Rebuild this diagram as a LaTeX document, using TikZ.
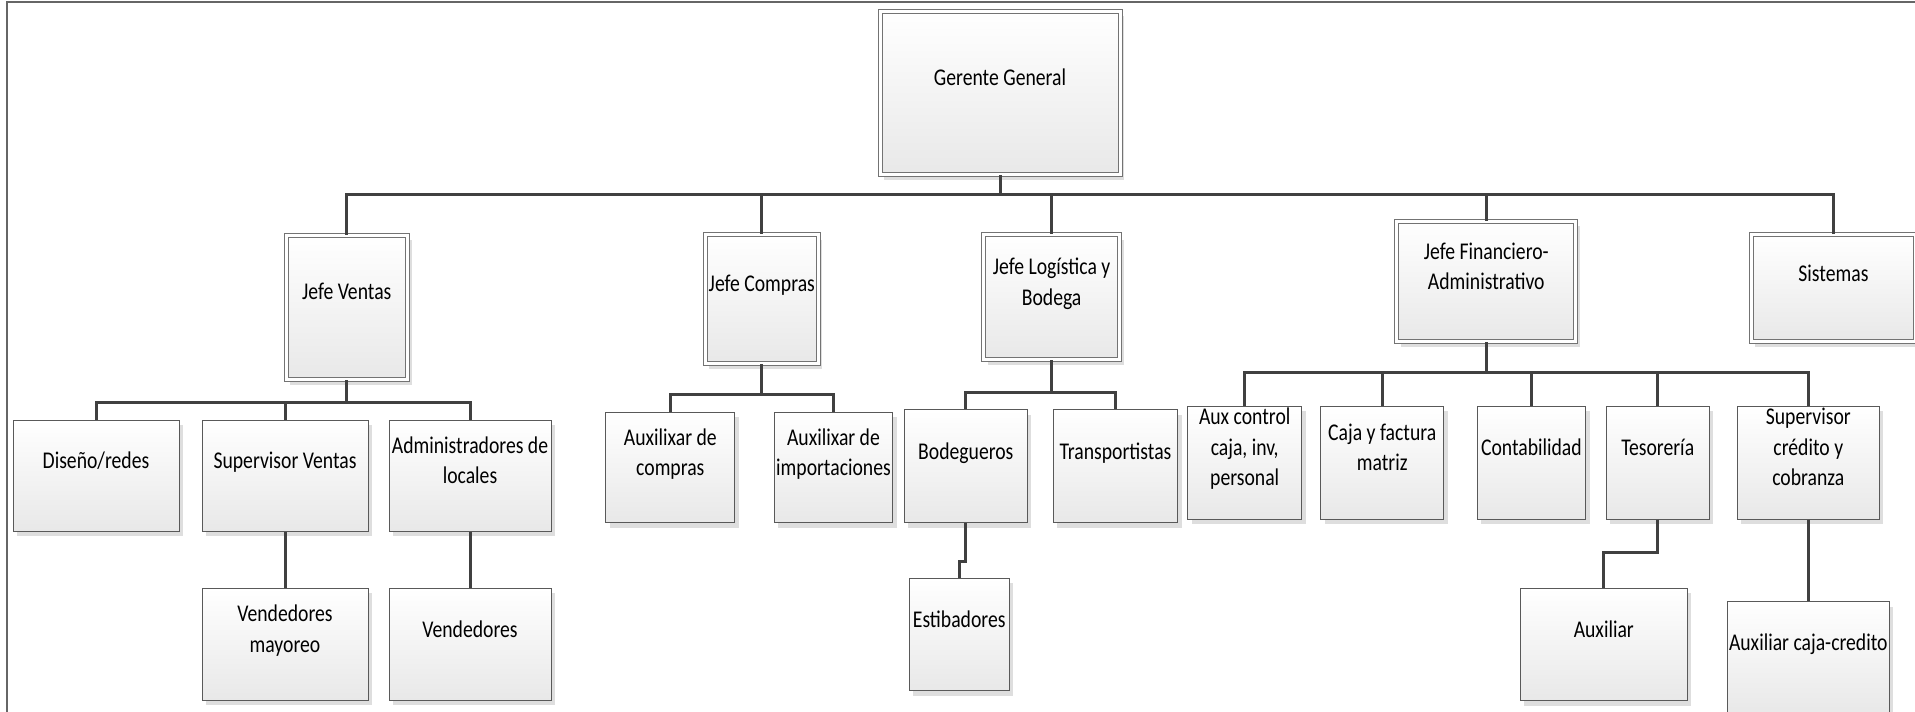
\documentclass[tikz,border=0pt]{standalone}
\usepackage{fontspec}
\setmainfont{Carlito}[FakeStretch=0.82]
\usetikzlibrary{shadows}

\newcommand\orgfont{\fontsize{24pt}{30.5pt}\selectfont}

\tikzset{
  post/.style={draw=black!65, line width=1pt, top color=white, bottom color=black!9,
    drop shadow={shadow xshift=4pt, shadow yshift=-5pt, fill=black!13, opacity=1},
    inner xsep=0pt, inner ysep=0pt, align=flush center, font=\orgfont,
    execute at begin node={\vrule width 0pt height 16pt depth 0pt\relax},
    execute at end node={\vrule width 0pt height 0pt depth 31pt\relax}},
  head/.style={post, draw=black!55, double=white, double distance=3pt},
  link/.style={draw=black!75, line width=3pt},
  frame/.style={draw=black!60, line width=1.5pt},
}

\begin{document}
\begin{tikzpicture}[x=1pt, y=-1pt]
\path[use as bounding box, fill=white] (0,0) rectangle (1915,712);
\draw[frame] (7,730) -- (7,2) -- (1930,2);

% heads
\node[head, text width=240pt, minimum height=163.5pt] (gg) at (1000,92.75) {Gerente General};
\node[head, text width=121.5pt, minimum height=144.5pt] (jv) at (346.75,307.25) {Jefe Ventas};
\node[head, text width=112.7pt, minimum height=129pt] (jc) at (761.8,299) {Jefe Compras};
\node[head, text width=136pt, minimum height=125.2pt] (jl) at (1051.6,297.1) {Jefe Logística y\\Bodega};
\node[head, text width=179pt, minimum height=120.6pt] (jf) at (1486.3,281.5) {Jefe Financiero-\\Administrativo};
\node[head, text width=164.8pt, minimum height=107.3pt] (sis) at (1833.4,288.3) {Sistemas};

% ventas
\node[post, text width=166pt, minimum height=111pt] (dis) at (96,475.5) {Diseño/redes};
\node[post, text width=166pt, minimum height=111pt] (sv) at (285,475.5) {Supervisor Ventas};
\node[post, text width=162pt, minimum height=111pt] (adm) at (470,475.5) {Administradores de\\locales};
\node[post, text width=166pt, minimum height=111.7pt] (vm) at (285,644.2) {Vendedores\\mayoreo};
\node[post, text width=162pt, minimum height=111.7pt] (ven) at (470,644.2) {Vendedores};

% compras
\node[post, text width=128.7pt, minimum height=110.4pt] (ac) at (670.3,467.5) {Auxilixar de\\compras};
\node[post, text width=118.4pt, minimum height=110.4pt] (ai) at (833.5,467.5) {Auxilixar de\\importaciones};

% logistica
\node[post, text width=123pt, minimum height=112.7pt] (bod) at (965.8,466.3) {Bodegueros};
\node[post, text width=124.4pt, minimum height=112.7pt] (tra) at (1115.5,466.3) {Transportistas};
\node[post, text width=100.3pt, minimum height=112.4pt] (est) at (959.2,634.5) {Estibadores};

% financiero
\node[post, text width=114pt, minimum height=113pt] (aux) at (1244.7,462.5) {Aux control\\caja, inv,\\personal};
\node[post, text width=123pt, minimum height=113pt] (caj) at (1382.2,462.5) {Caja y factura\\matriz};
\node[post, text width=108.2pt, minimum height=113pt] (con) at (1531.4,462.5) {Contabilidad};
\node[post, text width=103.3pt, minimum height=113pt] (tes) at (1657.7,462.5) {Tesorería};
\node[post, text width=142pt, minimum height=113pt] (sup) at (1808.3,462.5) {Supervisor\\crédito y\\cobranza};
\node[post, text width=167pt, minimum height=112.4pt] (axl) at (1603.8,644.5) {Auxiliar};
\node[post, text width=162pt, minimum height=112.4pt] (acc) at (1808.3,657.8) {Auxiliar caja-credito};

% lineas
\coordinate (b0) at (1000,194);
\coordinate (b1) at (346.75,402);
\coordinate (b2) at (761.8,394.3);
\coordinate (b3) at (1051.6,392.3);
\coordinate (b4) at (1486.3,372.3);

\draw[link] (gg.south) -- (b0);
\foreach \n in {jv,jc,jl,jf,sis} \draw[link] (b0) -| (\n.north);
\draw[link] (jv.south) -- (b1);
\foreach \n in {dis,sv,adm} \draw[link] (b1) -| (\n.north);
\draw[link] (jc.south) -- (b2);
\foreach \n in {ac,ai} \draw[link] (b2) -| (\n.north);
\draw[link] (jl.south) -- (b3);
\foreach \n in {bod,tra} \draw[link] (b3) -| (\n.north);
\draw[link] (jf.south) -- (b4);
\foreach \n in {aux,caj,con,tes,sup} \draw[link] (b4) -| (\n.north);

\draw[link] (sv.south) -- (vm.north);
\draw[link] (adm.south) -- (ven.north);
\draw[link] (bod.south) -- ++(0,38.3) -| (est.north);
\draw[link] (tes.south) -- ++(0,33.3) -| (axl.north);
\draw[link] (sup.south) -- (acc.north);
\end{tikzpicture}
\end{document}
